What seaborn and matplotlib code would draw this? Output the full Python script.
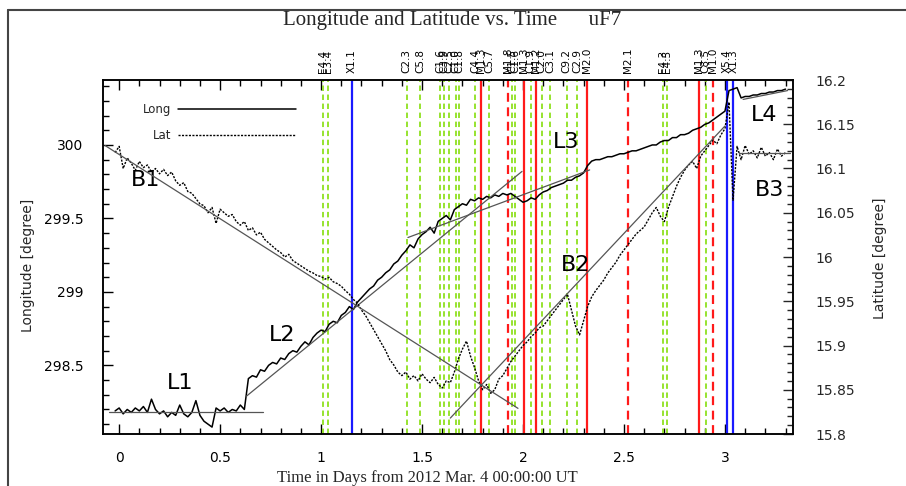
import numpy as np
import pandas as pd
import matplotlib
matplotlib.use("Agg")
import matplotlib.pyplot as plt
import matplotlib.transforms as mtransforms
from matplotlib.lines import Line2D
from matplotlib.ticker import MultipleLocator, FuncFormatter
import seaborn as sns

# ---------------- data ----------------
t_start, t_step = -0.02, 0.02

longitude = [
    298.19, 298.21, 298.17, 298.20, 298.18, 298.21, 298.19, 298.22, 298.18, 298.27,
    298.20, 298.17, 298.19, 298.15, 298.18, 298.16, 298.23, 298.17, 298.15, 298.18,
    298.26, 298.16, 298.12, 298.10, 298.08, 298.21, 298.19, 298.21, 298.18, 298.20,
    298.19, 298.23, 298.20, 298.41, 298.43, 298.42, 298.47, 298.46, 298.50, 298.52,
    298.51, 298.55, 298.54, 298.58, 298.60, 298.59, 298.63, 298.66, 298.64, 298.69,
    298.72, 298.74, 298.73, 298.78, 298.80, 298.79, 298.84, 298.86, 298.90, 298.88,
    298.93, 298.96, 298.99, 299.02, 299.04, 299.08, 299.10, 299.13, 299.15, 299.19,
    299.21, 299.25, 299.28, 299.32, 299.30, 299.36, 299.39, 299.41, 299.44, 299.40,
    299.48, 299.50, 299.52, 299.49, 299.56, 299.58, 299.60, 299.59, 299.63, 299.62,
    299.64, 299.63, 299.65, 299.64, 299.66, 299.65, 299.67, 299.66, 299.67, 299.65,
    299.63, 299.61, 299.62, 299.64, 299.63, 299.66, 299.68, 299.69, 299.71, 299.72,
    299.73, 299.74, 299.76, 299.76, 299.78, 299.79, 299.81, 299.86, 299.89, 299.90,
    299.90, 299.91, 299.92, 299.92, 299.93, 299.94, 299.94, 299.95, 299.96, 299.96,
    299.97, 299.98, 299.99, 300.00, 300.00, 300.02, 300.03, 300.03, 300.05, 300.05,
    300.07, 300.07, 300.08, 300.10, 300.11, 300.12, 300.14, 300.15, 300.17, 300.19,
    300.21, 300.23, 300.37, 300.38, 300.39, 300.32, 300.33, 300.33, 300.34, 300.34,
    300.35, 300.35, 300.36, 300.36, 300.37, 300.37, 300.38,
]

latitude = [
    16.118, 16.125, 16.100, 16.112, 16.106, 16.098, 16.108, 16.101, 16.104, 16.096,
    16.100, 16.094, 16.099, 16.092, 16.096, 16.086, 16.081, 16.084, 16.074, 16.072,
    16.066, 16.060, 16.058, 16.050, 16.056, 16.038, 16.054, 16.050, 16.046, 16.048,
    16.040, 16.036, 16.040, 16.030, 16.033, 16.025, 16.028, 16.020, 16.016, 16.012,
    16.008, 16.005, 16.000, 16.003, 15.996, 15.993, 15.990, 15.987, 15.984, 15.982,
    15.979, 15.978, 15.975, 15.977, 15.972, 15.970, 15.967, 15.962, 15.958, 15.952,
    15.948, 15.940, 15.934, 15.926, 15.918, 15.910, 15.902, 15.894, 15.884, 15.878,
    15.870, 15.866, 15.870, 15.862, 15.866, 15.860, 15.868, 15.862, 15.858, 15.864,
    15.856, 15.852, 15.860, 15.858, 15.870, 15.885, 15.896, 15.905, 15.888, 15.875,
    15.860, 15.850, 15.856, 15.846, 15.850, 15.862, 15.866, 15.874, 15.882, 15.888,
    15.894, 15.900, 15.904, 15.910, 15.914, 15.920, 15.922, 15.928, 15.934, 15.940,
    15.946, 15.952, 15.958, 15.940, 15.922, 15.912, 15.928, 15.944, 15.955, 15.962,
    15.968, 15.974, 15.982, 15.988, 15.994, 16.002, 16.008, 16.014, 16.020, 16.026,
    16.030, 16.034, 16.042, 16.050, 16.056, 16.046, 16.040, 16.056, 16.068, 16.080,
    16.090, 16.098, 16.104, 16.108, 16.100, 16.114, 16.120, 16.126, 16.132, 16.128,
    16.138, 16.145, 16.175, 16.064, 16.125, 16.110, 16.126, 16.116, 16.120, 16.112,
    16.124, 16.114, 16.118, 16.110, 16.122, 16.114, 16.118,
]

time = np.round(t_start + t_step * np.arange(len(longitude)), 3)

# linear fits (segment end points in data units)
fit_names = ["L1", "L2", "L3", "L4", "B1", "B2", "B3"]
fit_t0 = [-0.05, 0.63, 1.43, 3.09, -0.07, 1.64, 3.07]
fit_t1 = [0.71, 1.995, 2.33, 3.31, 1.975, 3.00, 3.32]
fit_v0 = [298.18, 298.29, 299.37, 300.31, 16.126, 15.818, 16.118]
fit_v1 = [298.18, 299.82, 299.83, 300.37, 15.829, 16.148, 16.118]

# flare events
flare_time = [1.011, 1.033, 1.153, 1.424, 1.490, 1.589, 1.610, 1.634, 1.667, 1.683,
              1.762, 1.792, 1.832, 1.927, 1.947, 1.960, 2.005, 2.038, 2.063, 2.093,
              2.134, 2.216, 2.269, 2.315, 2.521, 2.692, 2.711, 2.873, 2.904, 2.939,
              3.008, 3.041]
flare_class = ["E4.4", "E3.4", "X1.1", "C2.3", "C5.8", "C1.6", "C3.9", "C2.5", "C1.0", "C1.8",
               "C4.4", "M1.3", "C5.7", "M1.8", "C1.5", "C1.6", "M1.3", "C1.9", "M1.2", "C2.0",
               "C3.1", "C9.2", "C2.9", "M2.0", "M2.1", "E4.3", "E4.5", "M1.3", "C8.5", "M1.0",
               "X5.4", "X1.3"]

# ---------------- style ----------------
sns.set_style("ticks")
plt.rcParams["font.family"] = ["DejaVu Sans"]

W, H = 906, 486
fig = plt.figure(figsize=(W / 100, H / 100), dpi=100)
ax = fig.add_axes([103 / W, 1 - 434 / H, 690 / W, 354 / H])
ax2 = ax.twinx()

dashed_flares = {"M1.8", "M2.1", "M1.0"}
color_map = {"X": "#1a1aff", "M": "#ff1a1a"}
for tf, cl in zip(flare_time, flare_class):
    col = color_map.get(cl[0], "#8fe01f")
    if cl[0] == "X":
        ls, lw = "-", 1.6
    elif cl[0] == "M":
        ls, lw = ((0, (4, 2.5)) if cl in dashed_flares else "-"), 1.6
    else:
        ls, lw = (0, (3, 2)), 1.3
    ax.axvline(tf, color=col, ls=ls, lw=lw, zorder=1)

trans = mtransforms.blended_transform_factory(ax.transData, ax.transAxes)
for tf, cl in zip(flare_time, flare_class):
    ax.text(tf, 1.02, cl, transform=trans, rotation=90, ha="center", va="bottom",
            fontsize=7.5, color="black", clip_on=False)

df = pd.DataFrame({"time": time, "longitude": longitude, "latitude": latitude})
sns.lineplot(data=df, x="time", y="longitude", ax=ax, color="black", lw=1.1,
             zorder=3, legend=False)
sns.lineplot(data=df, x="time", y="latitude", ax=ax2, color="black", lw=1.0,
             linestyle=(0, (1.5, 1)), zorder=3, legend=False)

for name, a0, a1, v0, v1 in zip(fit_names, fit_t0, fit_t1, fit_v0, fit_v1):
    target = ax if name.startswith("L") else ax2
    target.plot([a0, a1], [v0, v1], color="#555555", lw=0.9, zorder=4)

label_pos = {"B1": (0.129, 299.762), "L1": (0.302, 298.381), "L2": (0.807, 298.707),
             "L3": (2.213, 300.02), "B2": (2.262, 299.184), "L4": (3.193, 300.204),
             "B3": (3.223, 299.694)}
for name in fit_names:
    x, y = label_pos[name]
    ax.text(x, y, name, fontsize=16, ha="center", va="center", color="black", zorder=5)

# axes limits and ticks
ax.set_xlim(-0.08, 3.337)
ax.set_ylim(298.033, 300.442)
ax2.set_ylim(15.8, 16.2)
fmt = FuncFormatter(lambda v, p: "%g" % round(v, 4))
ax.xaxis.set_major_locator(MultipleLocator(0.5))
ax.xaxis.set_minor_locator(MultipleLocator(0.1))
ax.yaxis.set_major_locator(MultipleLocator(0.5))
ax.yaxis.set_minor_locator(MultipleLocator(0.1))
ax2.yaxis.set_major_locator(MultipleLocator(0.05))
ax2.yaxis.set_minor_locator(MultipleLocator(0.01))
for a in (ax.xaxis, ax.yaxis, ax2.yaxis):
    a.set_major_formatter(fmt)
ax.tick_params(which="both", direction="in", top=True, right=False, labelsize=10,
               colors="black")
ax.tick_params(which="major", length=7, width=1)
ax.tick_params(which="minor", length=4, width=1)
ax.tick_params(axis="y", pad=14)
ax.tick_params(axis="x", pad=12)
ax2.tick_params(which="both", direction="in", labelsize=10, pad=16)
ax2.tick_params(which="major", length=7, width=1)
ax2.tick_params(which="minor", length=4, width=1)
ax.set_xlabel("")
ax.set_ylabel("")
ax2.set_ylabel("")
for a in (ax, ax2):
    for s in a.spines.values():
        s.set_color("black")
        s.set_linewidth(1.1)

# legend
handles = [Line2D([], [], color="black", lw=1.1),
           Line2D([], [], color="black", lw=1.0, linestyle=(0, (1.5, 1)))]
leg = ax2.legend(handles, ["Long", "Lat"], loc="upper left",
                 bbox_to_anchor=(0.042, 0.965), frameon=False, markerfirst=False,
                 handlelength=10, fontsize=8.5, labelspacing=1.1, handletextpad=0.6)

# titles and labels
fig.text(452 / W, 1 - 20 / H, "Longitude and Latitude vs. Time      uF7",
         family="Liberation Serif", fontsize=15, ha="center", va="center")
fig.text(427 / W, 1 - 478 / H, "Time in Days from 2012 Mar. 4 00:00:00 UT",
         family="Liberation Serif", fontsize=12, ha="center", va="center")
fig.text(28 / W, 1 - 265 / H, "Longitude [degree]", rotation=90, fontsize=10,
         ha="center", va="center")
fig.text(880 / W, 1 - 258 / H, "Latitude [degree]", rotation=90, fontsize=10,
         ha="center", va="center")

# figure border
fig.add_artist(Line2D([8 / W, 8 / W], [0, 1 - 10 / H], color="#444444", lw=1.5,
                      transform=fig.transFigure))
fig.add_artist(Line2D([8 / W, 1], [1 - 10 / H, 1 - 10 / H], color="#444444", lw=1.5,
                      transform=fig.transFigure))

fig.savefig("out.png", dpi=100)
